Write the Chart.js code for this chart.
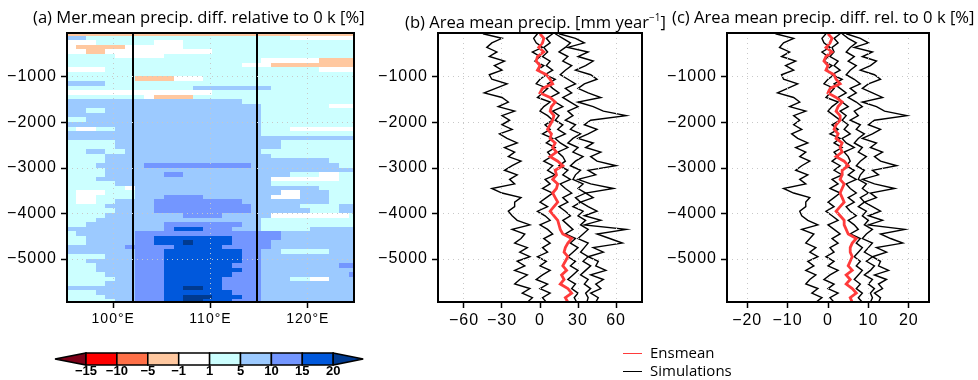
<!DOCTYPE html>
<html>
<head>
<meta charset="utf-8">
<script src="https://cdn.jsdelivr.net/npm/chart.js@4.4.0/dist/chart.umd.min.js"></script>
<style>
  body{margin:0;background:#fff;}
  #wrap{position:relative;width:978px;height:380px;overflow:hidden;font-family:"Open Sans",sans-serif;color:#000;}
  canvas,svg{position:absolute;left:0;top:0;}
  .title{position:absolute;top:6px;font-size:16.6px;line-height:22px;white-space:nowrap;}
  .cblab{position:absolute;top:363px;font:bold 13px "Liberation Sans",sans-serif;transform:translateX(-50%);}
  .leg{position:absolute;left:623px;font-size:15px;line-height:18px;white-space:nowrap;}
  .leg i{display:inline-block;width:19px;height:0;border-top:1.5px solid;vertical-align:middle;margin-right:8px;}
</style>
</head>
<body>
<div id="wrap">
  <canvas id="ca" width="978" height="380"></canvas>
  <canvas id="cb" width="978" height="380"></canvas>
  <canvas id="cc" width="978" height="380"></canvas>
  <svg id="bar" width="978" height="380"></svg>
  <div class="title" style="left:33px">(a) Mer.mean precip. diff. relative to 0 k [%]</div>
  <div class="title" style="left:405px">(b) Area mean precip. [mm year<sup style="font-size:10px">−1</sup>]</div>
  <div class="title" style="left:672px">(c) Area mean precip. diff. rel. to 0 k [%]</div>
  <div class="leg" style="top:343px"><i style="border-color:#ff3b3b"></i>Ensmean</div>
  <div class="leg" style="top:361px"><i style="border-color:#000"></i>Simulations</div>
  <div id="cblabels"></div>
</div>
<script>
/* ---------- data ---------- */
const years = [-50,-150,-250,-350,-450,-550,-650,-750,-850,-950,-1050,-1150,-1250,-1350,-1450,-1550,-1650,-1750,-1850,-1950,
  -2050,-2150,-2250,-2350,-2450,-2550,-2650,-2750,-2850,-2950,-3050,-3150,-3250,-3350,-3450,-3550,-3650,-3750,-3850,-3950,
  -4050,-4150,-4250,-4350,-4450,-4550,-4650,-4750,-4850,-4950,-5050,-5150,-5250,-5350,-5450,-5550,-5650,-5750,-5850,-5950];
const yTicks = [-1000,-2000,-3000,-4000,-5000];

// panel (a): class index per 1° column, one row per century (top = most recent)
const heatLons = [95.75,96.75,97.75,98.75,99.75,100.75,101.75,102.75,103.75,104.75,105.75,106.75,107.75,108.75,109.75,
  110.75,111.75,112.75,113.75,114.75,115.75,116.75,117.75,118.75,119.75,120.75,121.75,122.75,123.75,124.75];
const heatRows = [
  "333333333333333333333333333333","665555555555555555555554444444","444555555444555555555555555555",
  "433333444444555555555555555555","443344444444444555555555555555","555554444455555555555555555555",
  "555555555555555555554444443333","555555555555555555444333333333","444455555555555555555555554444",
  "555555555555555555555555555555","555555533334445555555555555555","666655555555555555555555555555",
  "555555555555566666666555555555","444444444444444555555555555555","555555554333355555555555555555",
  "666666666666666666555555555555","666666666666666666665555555444","665566666666666666665555555555",
  "666666666666666666665555555555","556666666666666666665555555555","666666666666666666665555555555",
  "544556666666666666665554444444","666666666666666666665555555555","666666666666666666666666666666",
  "555556666666666666666655555555","555556666666666666666655555555","556655666666666666665555555555",
  "555566666666666666666555555555","555566666666666666666666666555","555666667777777777766666666655",
  "555566666666666666666666666666","555566666677666666666665554455","555666666666666666666444444455",
  "555556666666666666666555555555","555555466666666666666666665555","544455566666666666666644666555",
  "544555566677776666666444666555","544556666777777777666666666555","555566666777777777766666555566",
  "555556666777777777766666655566","555566666666777766666444444445","555666666666666666665555555555",
  "556666666677777777665555555555","666666666678887776665555566666","566666677777777777777766666666",
  "556666677888888887777766666666","556666677888988887777666666666","666666777778888877777666666666",
  "666666677788888888776655555666","555566677788888888776666666666","556666677788888888776666666666",
  "555666677788888887776666666677","555666677788888888776666666666","555566677788888887776666666667",
  "555556677788888877776665544666","555566677788888877776666666666","666666677788998877776666666666",
  "555666677788888887776666666666","555566677788999888776666666666","555556677788998887776666666666"];
const lonLines = [102, 114.75];
const aTicks = [100, 110, 120];

// colour classes (index 0..9) and colour-bar boundaries
const levels = [-15, -10, -5, -1, 1, 5, 10, 15, 20];
const levelColors = ["#7d0018","#ff0000","#ff7048","#ffc8a0","#ffffff","#ccffff","#9ccaff","#7396ff","#0058dc","#003a90"];

// panel (b): area mean precip. [mm/yr]
const ensB = [0,3,2,-1,3,-2,-3,0,-2,5,8,10,2,0,8,12,9,8,11,10,8,6,9,8,12,10,13,8,14,18,
  12,13,10,14,13,10,12,14,11,8,11,14,15,16,18,25,22,20,19,22,20,18,21,17,19,16,22,25,20,22];
const simB1 = [-45,-30,-38,-42,-34,-40,-28,-36,-30,-40,-38,-26,-35,-44,-30,-25,-33,-20,-30,-24,-30,-22,-32,-26,-18,-28,-20,-25,-15,-22,
  -28,-18,-24,-20,-38,-30,-15,-20,-20,-25,-22,-18,-8,-22,-12,-15,-20,-10,-16,-8,-18,-12,-20,-10,-16,-20,-8,-14,-6,-10];
const simB2 = [-2,-5,-3,2,-6,0,-4,3,-2,5,0,-3,6,2,-2,8,3,0,6,10,4,8,2,10,5,12,6,9,3,10,
  6,12,4,8,2,10,5,0,6,-2,4,8,0,6,10,3,8,2,6,-2,5,0,8,2,-3,6,0,8,2,5];
const simB3 = [10,5,8,3,6,2,8,5,10,4,12,6,10,15,8,12,18,10,15,12,18,14,20,12,16,22,14,18,20,15,
  22,18,24,16,20,25,18,22,15,20,24,18,22,26,20,28,24,30,26,22,28,24,30,26,22,28,25,30,27,29];
const simB4 = [12,18,24,20,15,22,18,25,20,16,22,28,20,25,18,24,30,22,26,20,28,24,32,26,22,30,26,34,28,24,
  32,28,26,34,30,36,28,32,26,34,30,36,32,38,34,30,38,35,32,38,34,40,36,32,38,35,40,36,38,37];
const simB5 = [15,28,35,22,38,30,42,36,28,40,45,35,30,38,48,30,42,50,68,40,35,45,38,30,42,36,48,40,45,60,
  38,44,30,40,58,36,42,32,38,45,35,48,35,68,45,55,65,42,50,38,46,44,52,40,50,44,48,40,46,44];
const bTicks = [-60, -30, 0, 30, 60];

// panel (c): area mean precip. diff. relative to 0k [%]
const ensC = [0,1,0.5,-0.5,1,-0.5,-1,0,-0.5,1.5,2,3,0.5,0,2,3.5,2.5,2,3,3,2,1.5,2.5,2,3.5,3,3.5,2,4,5,
  3.5,3.5,3,4,3.5,3,3.5,4,3,2,3,4,4,4.5,5,7,6,5.5,5.5,6,5.5,5,6,4.5,5.5,4.5,6,7,5.5,6];
const simC1 = [-13,-8.5,-11,-12,-9.5,-11.5,-8,-10.5,-8.5,-11.5,-11,-7.5,-10,-12.5,-8.5,-7,-9.5,-5.5,-8.5,-7,-8.5,-6.5,-9,-7.5,-5,-8,-5.5,-7,-4.5,-6.5,
  -8,-5,-7,-5.5,-11,-8.5,-4.5,-5.5,-5.5,-7,-6.5,-5,-2.5,-6.5,-3.5,-4.5,-5.5,-3,-4.5,-2.5,-5,-3.5,-5.5,-3,-4.5,-5.5,-2.5,-4,-1.5,-3];
const simC2 = [-0.5,-1.5,-1,0.5,-1.5,0,-1,1,-0.5,1.5,0,-1,1.5,0.5,-0.5,2.5,1,0,1.5,3,1,2.5,0.5,3,1.5,3.5,1.5,2.5,1,3,
  1.5,3.5,1,2.5,0.5,3,1.5,0,1.5,-0.5,1,2.5,0,1.5,3,1,2.5,0.5,1.5,-0.5,1.5,0,2.5,0.5,-1,1.5,0,2.5,0.5,1.5];
const simC3 = [3,1.5,2.5,1,1.5,0.5,2.5,1.5,3,1,3.5,1.5,3,4.5,2.5,3.5,5,3,4.5,3.5,5,4,5.5,3.5,4.5,6.5,4,5,5.5,4.5,
  6.5,5,7,4.5,5.5,7,5,6.5,4.5,5.5,7,5,6.5,7.5,5.5,8,7,8.5,7.5,6.5,8,7,8.5,7.5,6.5,8,7,8.5,7.5,8.5];
const simC4 = [3.5,5,7,5.5,4.5,6.5,5,7,5.5,4.5,6.5,8,5.5,7,5,7,8.5,6.5,7.5,5.5,8,7,9,7.5,6.5,8.5,7.5,9.5,8,7,
  9,8,7.5,9.5,8.5,10,8,9,7.5,9.5,8.5,10,9,11,9.5,8.5,11,10,9,11,9.5,11.5,10.5,9,11,10,11.5,10.5,11,10.5];
const simC5 = [4.5,8,10,6.5,11,8.5,12,10.5,8,11.5,13,10,8.5,11,13.5,8.5,12,14,19.5,11.5,10,13,11,8.5,12,10.5,13.5,11.5,13,17,
  11,12.5,8.5,11.5,16.5,10.5,12,9,11,13,10,13.5,10,19,13,15.5,18.5,12,14.5,11,13,12.5,15,11.5,14.5,12.5,13.5,11.5,13,12.5];
const cTicks = [-20, -10, 0, 10, 20];

/* ---------- helpers ---------- */
const minus = v => String(v).replace('-', '\u2212');
const tickFont = {family:'"Liberation Sans", Arial, sans-serif', size:16};

// wider tick lettering, like the original plot
const spacingPlugin = {
  id:'spacing',
  beforeLayout(chart){ chart.ctx.letterSpacing = '1px'; },
  beforeDraw(chart){ chart.ctx.letterSpacing = '1px'; }
};

const boxPlugin = {
  id:'box',
  afterDraw(chart){
    const {ctx, chartArea:a} = chart;
    ctx.save();
    ctx.lineWidth = 2;
    ctx.strokeStyle = '#000';
    ctx.strokeRect(a.left, a.top, a.right-a.left, a.bottom-a.top);
    ctx.restore();
  }
};

const heatPlugin = {
  id:'heat',
  beforeDatasetsDraw(chart){
    const {ctx, chartArea:a, scales:{x, y}} = chart;
    ctx.save();
    ctx.beginPath(); ctx.rect(a.left, a.top, a.right-a.left, a.bottom-a.top); ctx.clip();
    heatRows.forEach((row, r) => {
      const y0 = y.getPixelForValue(years[r]+50), y1 = y.getPixelForValue(years[r]-50);
      for(let c=0; c<row.length; c++){
        const x0 = x.getPixelForValue(heatLons[c]-0.5), x1 = x.getPixelForValue(heatLons[c]+0.5);
        ctx.fillStyle = levelColors[+row[c]];
        ctx.fillRect(Math.floor(x0), Math.floor(y0), Math.ceil(x1-x0)+1, Math.ceil(y1-y0)+1);
      }
    });
    ctx.strokeStyle = '#000';
    ctx.lineWidth = 2;
    lonLines.forEach(l => {
      const px = Math.round(x.getPixelForValue(l));
      ctx.beginPath(); ctx.moveTo(px, a.top); ctx.lineTo(px, a.bottom); ctx.stroke();
    });
    ctx.restore();
  }
};

function axis(ticksArr, extra){
  return Object.assign({
    type:'linear',
    afterBuildTicks: s => { s.ticks = ticksArr.map(v => ({value:v})); },
    grid:{color:'#c8c8c8', lineWidth:1, tickColor:'#000', tickLength:6, tickWidth:1.5, z:1},
    border:{display:false, dash:[1,4]},
    ticks:{font:tickFont, color:'#000', padding:3, autoSkip:false, maxRotation:0, callback:minus}
  }, extra);
}

function yAxis(){
  return axis(yTicks, {min:-5945, max:-33, afterFit: s => { s.width = 67; },
    ticks:{font:tickFont, color:'#000', padding:4, autoSkip:false, callback:minus}});
}

/* ---------- panel (a) ---------- */
new Chart(document.getElementById('ca'), {
  type:'scatter',
  data:{datasets:[{data:[]}]},
  options:{
    responsive:false, animation:false, events:[],
    layout:{padding:{left:0, right:624, top:33, bottom:48}},
    plugins:{legend:{display:false}, tooltip:{enabled:false}},
    scales:{
      x: axis(aTicks, {min:95.25, max:124.75, afterFit: s => { s.height = 30; },
        ticks:{font:{family:tickFont.family, size:14}, color:'#000', padding:3, maxRotation:0, callback: v => v + '°E'}}),
      y: yAxis()
    }
  },
  plugins:[spacingPlugin, heatPlugin, boxPlugin]
});

/* ---------- panels (b), (c) ---------- */
function linePanel(id, padLeft, padRight, xmin, xmax, xt, ens, sims){
  const toPts = arr => arr.map((v, i) => ({x:v, y:years[i]}));
  const ds = [{label:'Ensmean', data:toPts(ens), borderColor:'#ff3b3b', borderWidth:2.8}]
    .concat(sims.map(s => ({label:'Simulations', data:toPts(s), borderColor:'#000', borderWidth:1.4})));
  ds.forEach(d => { d.pointRadius = 0; d.tension = 0; d.fill = false; });
  new Chart(document.getElementById(id), {
    type:'line',
    data:{datasets:ds},
    options:{
      responsive:false, animation:false, events:[],
      layout:{padding:{left:padLeft, right:padRight, top:33, bottom:48}},
      plugins:{legend:{display:false}, tooltip:{enabled:false}},
      scales:{
        x: axis(xt, {min:xmin, max:xmax, afterFit: s => { s.height = 30; }}),
        y: yAxis()
      }
    },
    plugins:[spacingPlugin, boxPlugin]
  });
}
linePanel('cb', 371, 336, -80.5, 80.5, bTicks, ensB, [simB1, simB2, simB3, simB4, simB5]);
linePanel('cc', 660, 49, -25, 25, cTicks, ensC, [simC1, simC2, simC3, simC4, simC5]);

/* ---------- colour bar ---------- */
const svg = document.getElementById('bar');
const NS = 'http://www.w3.org/2000/svg';
const cbLeft = 86, cbW = 30.9, cbTop = 353, cbH = 12;
function el(tag, attrs){ const e = document.createElementNS(NS, tag); for(const k in attrs) e.setAttribute(k, attrs[k]); svg.appendChild(e); }
const nBox = levels.length - 1;
el('polygon', {points:`${cbLeft-31},${cbTop+cbH/2} ${cbLeft},${cbTop} ${cbLeft},${cbTop+cbH}`, fill:levelColors[0], stroke:'#000', 'stroke-width':1.5});
for(let i=0; i<nBox; i++){
  el('rect', {x:cbLeft+i*cbW, y:cbTop, width:cbW, height:cbH, fill:levelColors[i+1], stroke:'#000', 'stroke-width':1.5});
}
const cbRight = cbLeft + nBox*cbW;
el('polygon', {points:`${cbRight},${cbTop} ${cbRight+30},${cbTop+cbH/2} ${cbRight},${cbTop+cbH}`, fill:levelColors[9], stroke:'#000', 'stroke-width':1.5});
const lab = document.getElementById('cblabels');
levels.forEach((v, i) => {
  const s = document.createElement('span');
  s.className = 'cblab';
  s.style.left = (cbLeft + i*cbW) + 'px';
  s.textContent = minus(v);
  lab.appendChild(s);
});
</script>
</body>
</html>
